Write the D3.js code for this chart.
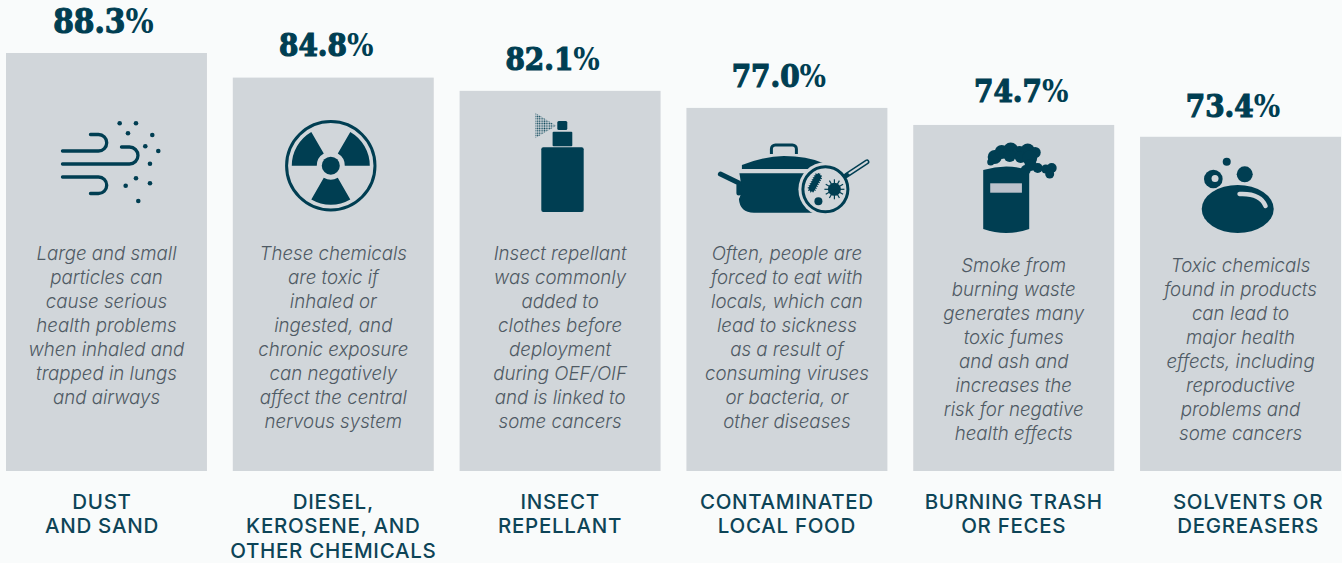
<!DOCTYPE html>
<html>
<head>
<meta charset="utf-8">
<script src="https://cdn.jsdelivr.net/npm/d3@7"></script>
<style>
html, body { margin: 0; padding: 0; background: #f9fbfb; overflow: hidden; }
svg { display: block; }
.value { font-family: "DejaVu Serif", serif; font-stretch: condensed; font-weight: 700; fill: #003e52; stroke: #003e52; stroke-width: 1.1px; text-anchor: middle; }
.value .pct { stroke-width: 0; }
.blurb { font-family: "Inter", sans-serif; font-style: italic; font-weight: 300; font-size: 18.7px; fill: #4f5a64; text-anchor: middle; }
.title { font-family: "Inter", sans-serif; font-weight: 500; font-size: 20.5px; letter-spacing: 0.7px; fill: #0d4457; text-anchor: middle; }
</style>
</head>
<body>
<div id="vis"></div>
<script>
const width = 1342, height = 563
const dark = "#003e52", barColor = "#d1d6da"

// printed values, the bars themselves are not quite to scale with them
let categories = ["dust", "diesel", "insect", "food", "trash", "solvents"]
let values = [88.3, 84.8, 82.1, 77.0, 74.7, 73.4]
let barLevels = [88.3, 83.1, 80.3, 76.7, 73.1, 70.6]

let titles = [
    ["DUST", "AND SAND"],
    ["DIESEL,", "KEROSENE, AND", "OTHER CHEMICALS"],
    ["INSECT", "REPELLANT"],
    ["CONTAMINATED", "LOCAL FOOD"],
    ["BURNING TRASH", "OR FECES"],
    ["SOLVENTS OR", "DEGREASERS"]
]
let blurbs = [
    ["Large and small", "particles can", "cause serious", "health problems", "when inhaled and", "trapped in lungs", "and airways"],
    ["These chemicals", "are toxic if", "inhaled or", "ingested, and", "chronic exposure", "can negatively", "affect the central", "nervous system"],
    ["Insect repellant", "was commonly", "added to", "clothes before", "deployment", "during OEF/OIF", "and is linked to", "some cancers"],
    ["Often, people are", "forced to eat with", "locals, which can", "lead to sickness", "as a result of", "consuming viruses", "or bacteria, or", "other diseases"],
    ["Smoke from", "burning waste", "generates many", "toxic fumes", "and ash and", "increases the", "risk for negative", "health effects"],
    ["Toxic chemicals", "found in products", "can lead to", "major health", "effects, including", "reproductive", "problems and", "some cancers"]
]

// small nudges seen in the original layout
let valueDx = [-3, -7, -7.5, -8, 7.5, -7.5]
let valueGap = [20, 22, 20.5, 21, 23, 20]
let valueSize = [33, 31, 31, 31, 31, 31]
let titleDx = [-4.5, 0, 0, 0, 0, 7.5]
let blurbTop = [260, 260, 260, 260, 272, 272]

let svg = d3.select("#vis").append("svg")
    .attr("width", width)
    .attr("height", height)

let x = d3.scaleBand().domain(categories).range([6, 1341]).paddingInner(0.114)
let y = d3.scaleLinear().domain([0, 88.3]).range([471, 53])

let defs = svg.append("defs")
defs.append("pattern")
    .attr("id", "mist")
    .attr("width", 2.4)
    .attr("height", 2.4)
    .attr("patternUnits", "userSpaceOnUse")
    .append("circle")
    .attr("cx", 1.2).attr("cy", 1.2).attr("r", 0.8).attr("fill", dark)

function wind(g) {
    g.append("path")
        .attr("d", "M-44,151H-8a8.25,8.25 0 0 0 0,-16.5H-16M-44,164H23a8.5,8.5 0 0 0 0,-17H15M-44,177H-8a8.25,8.25 0 0 1 0,16.5H-16")
        .attr("fill", "none")
        .attr("stroke", dark)
        .attr("stroke-width", 3.3)
        .attr("stroke-linecap", "round")
    let dots = [[13.2, 123.3], [29.5, 123.3], [21.5, 133.3], [45.8, 135], [38.8, 146.3], [51.8, 151], [43.5, 163.7], [29.5, 178.3], [43.5, 183.3], [19.2, 185.7], [31.8, 201]]
    g.selectAll("circle").data(dots).join("circle")
        .attr("cx", d => d[0]).attr("cy", d => d[1]).attr("r", 2.3).attr("fill", dark)
}

function radiation(g) {
    let c = g.append("g").attr("transform", "translate(-2.5,165.7)")
    c.append("circle").attr("r", 44.2).attr("fill", "none").attr("stroke", dark).attr("stroke-width", 3)
    c.append("circle").attr("r", 9).attr("fill", dark)
    let arc = d3.arc().innerRadius(14).outerRadius(39)
    let blades = [[-90, -30], [30, 90], [150, 210]]
    c.selectAll("path").data(blades).join("path")
        .attr("d", d => arc({ startAngle: d[0] * Math.PI / 180, endAngle: d[1] * Math.PI / 180 }))
        .attr("fill", dark)
}

function spray(g) {
    g.append("rect").attr("x", -18.8).attr("y", 147.3).attr("width", 42.4).attr("height", 64.7).attr("rx", 2).attr("fill", dark)
    g.append("rect").attr("x", -7.5).attr("y", 131.7).attr("width", 19.7).attr("height", 14.5).attr("rx", 1).attr("fill", dark)
    g.append("rect").attr("x", -2.8).attr("y", 121).attr("width", 10).attr("height", 9).attr("rx", 1.5).attr("fill", dark)
    g.append("path").attr("d", "M-25,112.7L-3.8,125.7L-25,138.3Z").attr("fill", "url(#mist)")
}

function pot(g) {
    g.append("path").attr("d", "M-15.5,154V149a4,4 0 0 1 4,-4H5.5a4,4 0 0 1 4,4V154")
        .attr("fill", "none").attr("stroke", dark).attr("stroke-width", 3)
    g.append("path").attr("d", "M-45,169V165Q-22,156 -3,156Q20,156 36,163L30,169Z").attr("fill", dark)
    g.append("path").attr("d", "M-47.5,173.3H30V212.7H-33Q-47,212.7 -48,199Q-44,193 -47.5,173.3Z").attr("fill", dark)
    g.append("path").attr("d", "M-66.5,174L-48,183V193")
        .attr("fill", "none").attr("stroke", dark).attr("stroke-width", 5).attr("stroke-linecap", "round").attr("stroke-linejoin", "round")
    // magnifier
    let m = g.append("g").attr("transform", "translate(38.5,189.3)")
    m.append("circle").attr("r", 27).attr("fill", barColor)
    m.append("circle").attr("r", 22.5).attr("fill", barColor).attr("stroke", dark).attr("stroke-width", 3)
    m.append("line").attr("x1", 21).attr("y1", -14).attr("x2", 41.5).attr("y2", -27.5)
        .attr("stroke", dark).attr("stroke-width", 5).attr("stroke-linecap", "round")
    m.append("line").attr("x1", 24).attr("y1", -16).attr("x2", 41.5).attr("y2", -27.5)
        .attr("stroke", barColor).attr("stroke-width", 2).attr("stroke-linecap", "round")
    m.append("rect").attr("x", -13).attr("y", -16).attr("width", 6.5).attr("height", 19).attr("rx", 3)
        .attr("transform", "rotate(28,-10,-8)").attr("fill", dark)
        .attr("stroke", dark).attr("stroke-width", 2).attr("stroke-dasharray", "1 1.2")
    m.append("circle").attr("cx", -7).attr("cy", 12).attr("r", 4).attr("fill", dark)
    m.append("circle").attr("cx", 9).attr("r", 6.5).attr("fill", dark)
    m.selectAll("line.spike").data(d3.range(12)).join("line")
        .attr("class", "spike")
        .attr("x1", 9)
        .attr("y1", 0)
        .attr("x2", i => 9 + 10 * Math.cos(i * Math.PI / 6))
        .attr("y2", i => 10 * Math.sin(i * Math.PI / 6))
        .attr("stroke", dark)
        .attr("stroke-width", 1.2)
}

function barrel(g) {
    g.append("path").attr("d", "M-30.5,170Q-7.5,163 15.5,170V229Q-7.5,237 -30.5,229Z").attr("fill", dark)
    g.append("rect").attr("x", -23.5).attr("y", 183.3).attr("width", 31.7).attr("height", 9.4).attr("fill", "#bcc2cc")
    let puffs = [[-19, 157, 7], [-12, 152, 7], [-3, 150, 7.5], [6, 153, 7], [14, 150.5, 7], [21.5, 152.5, 5.5], [-4, 156, 6], [7, 157, 6], [16, 158, 7.5], [-23, 162, 3.5], [12, 170, 5], [17, 165, 6], [24, 168, 5], [32, 169, 4.5], [38, 168, 5], [36, 174, 4.5]]
    g.selectAll("circle").data(puffs).join("circle")
        .attr("cx", d => d[0]).attr("cy", d => d[1]).attr("r", d => d[2]).attr("fill", dark)
}

function soap(g) {
    g.append("ellipse").attr("cx", -2.8).attr("cy", 209).attr("rx", 36).attr("ry", 24).attr("fill", dark)
    g.append("path").attr("d", "M-1,194Q20,193 25,206")
        .attr("fill", "none").attr("stroke", barColor).attr("stroke-width", 4.5).attr("stroke-linecap", "round")
    g.append("circle").attr("cx", -27.2).attr("cy", 179).attr("r", 9.3).attr("fill", dark)
    g.append("circle").attr("cx", -25.5).attr("cy", 178.5).attr("r", 3.5).attr("fill", barColor)
    g.append("circle").attr("cx", 4.2).attr("cy", 174.3).attr("r", 8).attr("fill", dark)
    g.append("circle").attr("cx", -13.8).attr("cy", 161.7).attr("r", 4).attr("fill", dark)
}

let icons = [wind, radiation, spray, pot, barrel, soap]

let cols = svg.selectAll("g.col")
    .data(categories)
    .join("g")
    .attr("class", "col")

cols.append("rect")
    .attr("x", d => x(d))
    .attr("y", (d, i) => y(barLevels[i]))
    .attr("width", x.bandwidth())
    .attr("height", (d, i) => y(0) - y(barLevels[i]))
    .attr("fill", barColor)

let valueText = cols.append("text")
    .attr("class", "value")
    .attr("x", (d, i) => x(d) + x.bandwidth() / 2 + valueDx[i])
    .attr("y", (d, i) => y(barLevels[i]) - valueGap[i])
    .attr("font-size", (d, i) => valueSize[i])
valueText.append("tspan").text((d, i) => d3.format(".1f")(values[i]))
valueText.append("tspan").attr("class", "pct").text("%")

cols.each(function (d, i) {
    let g = d3.select(this)
    let cx = x(d) + x.bandwidth() / 2
    g.append("text")
        .attr("class", "blurb")
        .selectAll("tspan")
        .data(blurbs[i])
        .join("tspan")
        .attr("x", cx)
        .attr("y", (l, k) => blurbTop[i] + k * 24)
        .text(l => l)
    g.append("text")
        .attr("class", "title")
        .selectAll("tspan")
        .data(titles[i])
        .join("tspan")
        .attr("x", cx + titleDx[i])
        .attr("y", (l, k) => 508.5 + k * 24.7)
        .text(l => l)
    icons[i](g.append("g").attr("transform", `translate(${cx},0)`))
})
</script>
</body>
</html>
